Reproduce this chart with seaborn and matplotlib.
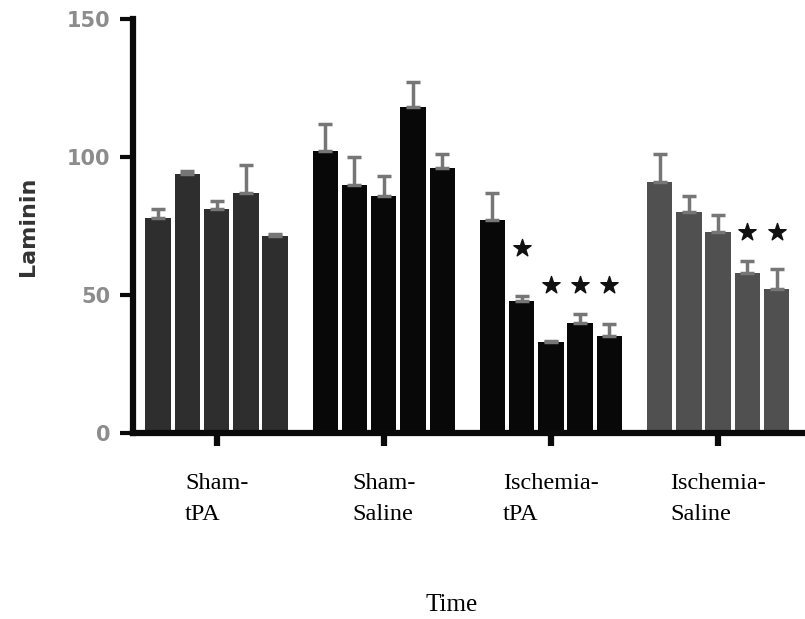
import numpy as np
import pandas as pd
import matplotlib
matplotlib.use("Agg")
import matplotlib.pyplot as plt
import seaborn as sns

# values
groups = ["Sham-\ntPA", "Sham-\nSaline", "Ischemia-\ntPA", "Ischemia-\nSaline"]
times = ["t1", "t2", "t3", "t4", "t5"]
sham_tpa = [78, 94, 81, 87, 71.5]
sham_saline = [102, 90, 86, 118, 96]
isch_tpa = [77, 48, 33, 40, 35]
isch_saline = [91, 80, 73, 58, 52]
sham_tpa_err = [3, 1, 3, 10, 0.5]
sham_saline_err = [10, 10, 7, 9, 5]
isch_tpa_err = [10, 1.5, 0.5, 3, 4.5]
isch_saline_err = [10, 6, 6, 4.5, 7.5]
group_colors = ["#2e2e2e", "#080808", "#080808", "#505050"]

# significance stars: (group index, time index, height)
stars = [(2, 1, 67), (2, 2, 53.5), (2, 3, 53.5), (2, 4, 53.5),
         (3, 3, 73), (3, 4, 73)]

values = [sham_tpa, sham_saline, isch_tpa, isch_saline]
errors = [sham_tpa_err, sham_saline_err, isch_tpa_err, isch_saline_err]

df = pd.DataFrame({
    "group": np.repeat(groups, len(times)),
    "time": times * len(groups),
    "laminin": np.concatenate(values),
})

fig = plt.figure(figsize=(8.05, 6.19), dpi=100)
ax = fig.add_axes([133 / 805, 1 - 433 / 619, 672 / 805, 414 / 619])

sns.barplot(data=df, x="group", y="laminin", hue="time", order=groups,
            hue_order=times, palette=["black"] * 5, width=0.875, gap=0.13,
            errorbar=None, legend=False, saturation=1, ax=ax)

bar_sets = list(ax.containers)

# colour by group, add one-sided error bars
for ti, cont in enumerate(bar_sets):
    for gi, bar in enumerate(cont):
        bar.set_facecolor(group_colors[gi])
        bar.set_edgecolor("none")
        xc = bar.get_x() + bar.get_width() / 2
        ax.errorbar(xc, bar.get_height(), yerr=[[0], [errors[gi][ti]]],
                    fmt="none", ecolor="#767676", elinewidth=2.5,
                    capsize=5, capthick=2.5, zorder=3)

for gi, ti, h in stars:
    bar = bar_sets[ti][gi]
    ax.scatter(bar.get_x() + bar.get_width() / 2, h, marker="*", s=170,
               color="#111111", zorder=4)

ax.set_xlim(-0.5, 3.52)
ax.set_ylim(0, 150)
ax.set_yticks([0, 50, 100, 150])

sns.despine(ax=ax)
for side in ["left", "bottom"]:
    ax.spines[side].set_linewidth(4.5)
    ax.spines[side].set_color("#0a0a0a")

ax.tick_params(axis="y", direction="out", length=9.5, width=3, pad=7,
               labelsize=15, labelcolor="#8c8c8c", color="#0a0a0a")
ax.tick_params(axis="x", direction="out", length=9, width=4.5, pad=20,
               color="#0a0a0a")
for lab in ax.get_xticklabels():
    lab.set_fontfamily("Liberation Serif")
    lab.set_fontsize(17.5)
    lab.set_linespacing(1.6)
    lab.set_multialignment("left")
for lab in ax.get_yticklabels():
    lab.set_fontweight("bold")

ax.set_xlabel("Time", fontfamily="Liberation Serif", fontsize=18)
ax.xaxis.set_label_coords((452 - 133) / 672, (433 - 594) / 414)
ax.set_ylabel("Laminin", fontsize=16, fontweight="bold", color="#333333")
ax.yaxis.set_label_coords((38 - 133) / 672, 0.5)

fig.savefig("out.png", dpi=100)
